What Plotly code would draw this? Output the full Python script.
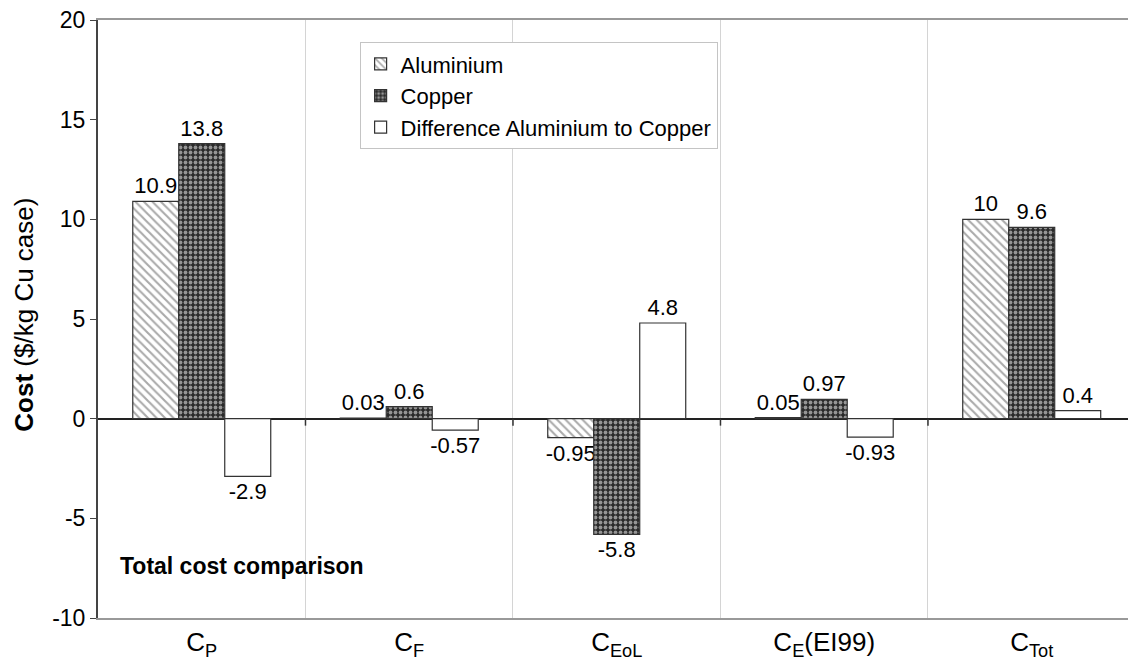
import plotly.graph_objects as go

categories = ["C<sub>P</sub>", "C<sub>F</sub>", "C<sub>EoL</sub>", "C<sub>E</sub>(EI99)", "C<sub>Tot</sub>"]
aluminium = [10.9, 0.03, -0.95, 0.05, 10]
copper = [13.8, 0.6, -5.8, 0.97, 9.6]
difference = [-2.9, -0.57, 4.8, -0.93, 0.4]
y_ticks = [-10, -5, 0, 5, 10, 15, 20]
y_tick_text = ["-10", "-5", "0", "5", "10", "15", "20"]

FONT = "Liberation Sans, Arial, sans-serif"
LABEL_SIZE = 22

def labels(vals):
    return ["{:g}".format(v) for v in vals]

fig = go.Figure()
fig.add_trace(go.Bar(
    name="Aluminium", x=categories, y=aluminium,
    text=labels(aluminium), textposition="outside",
    marker=dict(color="white", line=dict(color="#333", width=1.2),
                pattern=dict(shape="\\", bgcolor="white", fgcolor="#555", size=6, solidity=0.35)),
))
fig.add_trace(go.Bar(
    name="Copper", x=categories, y=copper,
    text=labels(copper), textposition="outside",
    marker=dict(color="#2a2a2a", line=dict(color="#333", width=1.2),
                pattern=dict(shape=".", bgcolor="#2a2a2a", fgcolor="white", size=5, solidity=0.45)),
))
fig.add_trace(go.Bar(
    name="Difference Aluminium to Copper", x=categories, y=difference,
    text=labels(difference), textposition="outside",
    marker=dict(color="white", line=dict(color="#333", width=1.2)),
))
fig.update_traces(textfont=dict(size=LABEL_SIZE, color="black", family=FONT),
                  cliponaxis=False, constraintext="none")

# small tick marks on the zero line at category boundaries
for k in range(len(categories) - 1):
    fig.add_shape(type="line", xref="x", yref="y", x0=k + 0.5, x1=k + 0.5, y0=0, y1=-0.35,
                  line=dict(color="#333", width=1.5))

fig.add_annotation(text="<b>Total cost comparison</b>", xref="paper", yref="y",
                   x=0.019, y=-7.4, xanchor="left", yanchor="middle", showarrow=False,
                   font=dict(size=23, color="black", family=FONT))

fig.add_annotation(text="<b>Cost</b> ($/kg Cu case)", xref="paper", yref="paper",
                   x=-0.072, y=0.507, xanchor="center", yanchor="middle", textangle=-90,
                   showarrow=False, font=dict(size=26, color="black", family=FONT))

fig.update_layout(
    width=1128, height=664,
    margin=dict(l=98, r=0, t=20, b=46),
    paper_bgcolor="white", plot_bgcolor="white",
    font=dict(family=FONT, size=22, color="black"),
    barmode="group", bargap=0.335, bargroupgap=0,
    showlegend=True,
    legend=dict(x=0.254, y=0.963, xanchor="left", yanchor="top",
                bgcolor="white", bordercolor="#c4c4c4", borderwidth=1,
                font=dict(size=22, family=FONT), itemwidth=30, traceorder="normal",
                tracegroupgap=0),
    xaxis=dict(type="category", range=[-0.5, 4.464], tickson="boundaries",
               showgrid=True, gridcolor="#d4d4d4", gridwidth=1,
               showline=True, mirror=True, linecolor="#999999", linewidth=2,
               ticks="", tickfont=dict(size=26, family=FONT)),
    yaxis=dict(range=[-10, 20], tickvals=y_ticks, ticktext=y_tick_text, showgrid=False,
               zeroline=True, zerolinecolor="#222", zerolinewidth=1.5,
               showline=True, linecolor="#444", linewidth=2,
               ticks="outside", ticklen=6, tickcolor="#444",
               tickfont=dict(size=23, family=FONT)),
)

fig.write_html("out.html")
